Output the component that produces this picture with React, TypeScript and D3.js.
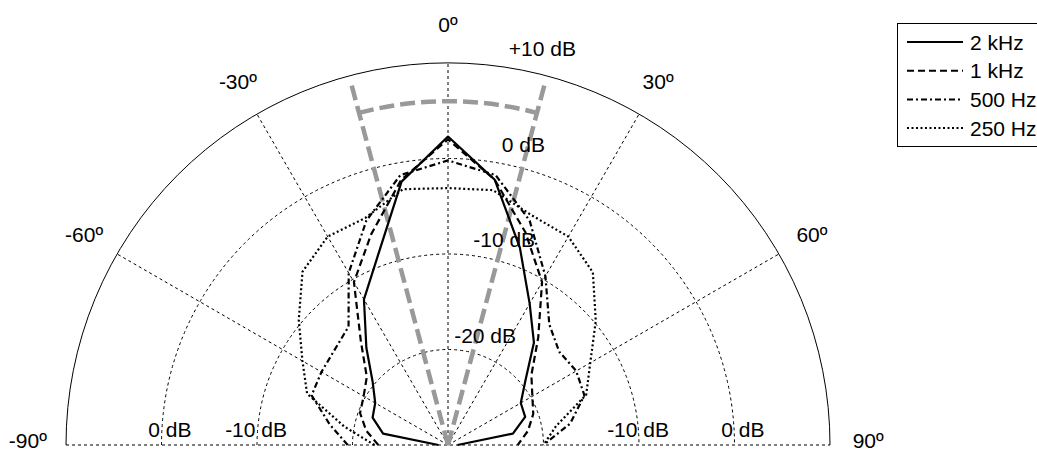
import React from 'react';
import * as d3 from 'd3';

// Measurement angles (degrees, 0 = on-axis, negative = left)
const ANGLES = [-90, -80, -70, -60, -50, -40, -30, -20, -10, 0, 10, 20, 30, 40, 50, 60, 70, 80, 90];

// Relative level (dB) per frequency band
const SERIES_2K = [-29, -23.1, -21.6, -21.2, -19.7, -16.7, -12.4, -8.7, -2.0, 2.3, -1.8, -8.0, -12.9, -16.0, -19.4, -21.2, -21.4, -23.1, -29];
const SERIES_1K = [-22.7, -21.3, -20.2, -19.8, -18.9, -15.8, -10.3, -6.5, -1.8, 2.0, -1.8, -6.3, -10.3, -15.3, -18.6, -19.8, -20.5, -21.5, -22.7];
const SERIES_500 = [-19.5, -17.4, -14.8, -14.7, -14.5, -13.8, -9.2, -5.0, -1.3, -0.2, -1.3, -5.0, -9.6, -13.5, -14.8, -14.5, -14.8, -17.0, -20.0];
const SERIES_250 = [-22.3, -19.0, -14.3, -12.4, -9.6, -6.3, -4.8, -4.7, -2.8, -3.1, -2.9, -4.4, -4.8, -6.4, -9.8, -12.8, -14.6, -18.5, -20.0];

const LEGEND_LABELS = ['2 kHz', '1 kHz', '500 Hz', '250 Hz'];
const DASHES = ['none', '7,4', '6,3,2,3', '2,2.5'];

// Grid
const RING_TICKS = [-20, -10, 0];
const RING_LABELS = ['+10 dB', '0 dB', '-10 dB', '-20 dB'];
const RING_LABEL_LEVELS = [10, 0, -10, -20];
const BOTTOM_LABEL_LEVELS = [0, -10];
const SPOKE_ANGLES = [-60, -30, 0, 30, 60];
const ANGLE_LABELS = [-90, -60, -30, 0, 30, 60, 90];

// Coverage sector overlay
const BEAM_HALF_ANGLE = 15;
const BEAM_ARC_DB = 6;
const BEAM_END_DB = 9.3;

const W = 1037;
const H = 450;
const CX = 448;
const CY = 445;
const R = 382;
const FONT = '"Liberation Sans", Arial, sans-serif';
const FS = 21;

const rScale = d3.scaleLinear().domain([-30, 10]).range([0, R]);
const toRad = (d: number) => (d * Math.PI) / 180;

function polar(angleDeg: number, r: number): [number, number] {
  const a = toRad(angleDeg);
  return [CX + r * Math.sin(a), CY - r * Math.cos(a)];
}

function semicircle(r: number): string {
  const p = d3.path();
  p.moveTo(CX - r, CY);
  p.arc(CX, CY, r, Math.PI, 2 * Math.PI);
  return p.toString();
}

export default function App() {
  const series = [SERIES_2K, SERIES_1K, SERIES_500, SERIES_250];
  const radial = d3
    .lineRadial<number>()
    .angle((_, i) => toRad(ANGLES[i]))
    .radius((v) => rScale(Math.max(-30, v)))
    .curve(d3.curveLinear);

  const beamArc = (() => {
    const p = d3.path();
    const r = rScale(BEAM_ARC_DB);
    const a0 = toRad(-90 - BEAM_HALF_ANGLE);
    const a1 = toRad(-90 + BEAM_HALF_ANGLE);
    p.moveTo(CX + r * Math.cos(a0), CY + r * Math.sin(a0));
    p.arc(CX, CY, r, a0, a1);
    return p.toString();
  })();

  const gridStyle = { stroke: '#000', strokeWidth: 1, strokeDasharray: '3,3', fill: 'none' };

  return (
    <svg width={W} height={H} style={{ position: 'absolute', left: 0, top: 0, background: '#fff' }}
      fontFamily={FONT} fontSize={FS}>
      <rect x={0} y={0} width={W} height={H} fill="#fff" />
      {/* rings */}
      {RING_TICKS.map((t) => (
        <path key={t} d={semicircle(rScale(t))} {...gridStyle} />
      ))}
      {/* spokes */}
      {SPOKE_ANGLES.map((a) => {
        const [x, y] = polar(a, R);
        return <line key={a} x1={CX} y1={CY} x2={x} y2={y} {...gridStyle} />;
      })}
      <line x1={CX - R} y1={CY} x2={CX + R} y2={CY} {...gridStyle} />
      {/* outer boundary */}
      <path d={semicircle(R)} stroke="#000" strokeWidth={1} fill="none" />

      {/* coverage sector */}
      <g stroke="#999" strokeWidth={4.5} strokeDasharray="15,6" fill="none">
        {[-BEAM_HALF_ANGLE, BEAM_HALF_ANGLE].map((a) => {
          const [x, y] = polar(a, rScale(BEAM_END_DB));
          return <line key={a} x1={CX} y1={CY} x2={x} y2={y} />;
        })}
        <path d={beamArc} />
      </g>

      {/* data */}
      <g transform={`translate(${CX},${CY})`} fill="none" stroke="#000" strokeWidth={2.2} strokeLinejoin="round">
        {series.map((s, i) => (
          <path key={i} d={radial(s) || ''} strokeDasharray={DASHES[i] === 'none' ? undefined : DASHES[i]} />
        ))}
      </g>

      {/* ring labels */}
      {RING_LABEL_LEVELS.map((lv, i) => {
        const r = rScale(lv);
        return (
          <text key={lv} x={CX + 0.2 * r + 18} y={CY - r - 7} textAnchor="middle" fill="#000">
            {RING_LABELS[i]}
          </text>
        );
      })}
      {BOTTOM_LABEL_LEVELS.flatMap((lv) => {
        const r = rScale(lv);
        const txt = `${lv} dB`;
        return [
          <text key={`l${lv}`} x={CX - r + 30} y={CY - 8} textAnchor="end" fill="#000">{txt}</text>,
          <text key={`r${lv}`} x={CX + r + 30} y={CY - 8} textAnchor="end" fill="#000">{txt}</text>,
        ];
      })}

      {/* angle labels */}
      {ANGLE_LABELS.map((a) => {
        const [x, y] = polar(a, R * 1.1);
        const yy = Math.abs(a) === 90 ? y - 5 : y;
        return (
          <text key={a} x={x} y={yy} textAnchor="middle" dominantBaseline="central" fill="#000">
            {`${a}º`}
          </text>
        );
      })}

      {/* legend */}
      <g>
        <rect x={897.5} y={23.5} width={200} height={123} fill="#fff" stroke="#000" strokeWidth={1} />
        {LEGEND_LABELS.map((lab, i) => {
          const y = 42 + i * 28.7;
          return (
            <g key={lab}>
              <line x1={907} x2={963} y1={y} y2={y} stroke="#000" strokeWidth={2}
                strokeDasharray={DASHES[i] === 'none' ? undefined : DASHES[i]} />
              <text x={970} y={y} dominantBaseline="central" fill="#000">{lab}</text>
            </g>
          );
        })}
      </g>
    </svg>
  );
}
